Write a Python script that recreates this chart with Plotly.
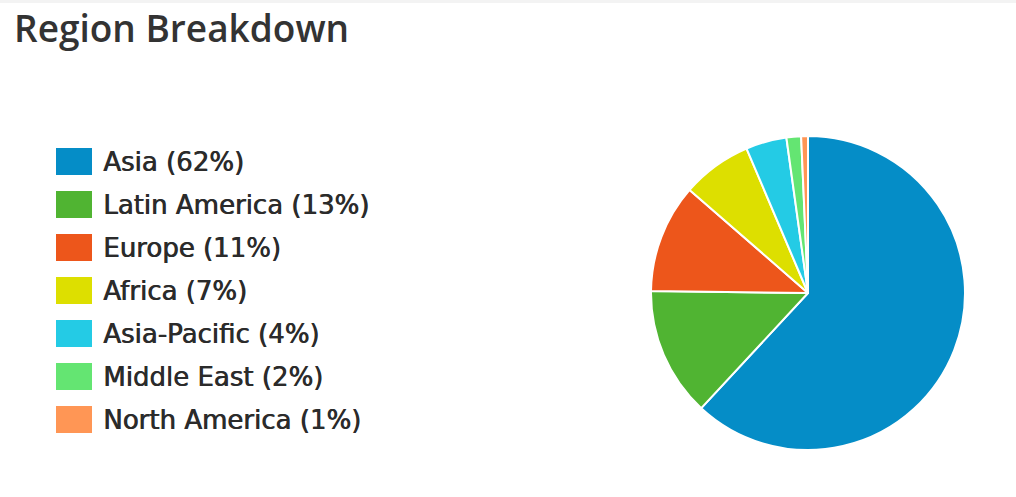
import plotly.graph_objects as go

regions = ["Asia", "Latin America", "Europe", "Africa", "Asia-Pacific", "Middle East", "North America"]
shares = [61.9, 13.3, 11.2, 7.2, 4.2, 1.5, 0.7]
legend_labels = ["Asia (62%)", "Latin America (13%)", "Europe (11%)", "Africa (7%)",
                 "Asia-Pacific (4%)", "Middle East (2%)", "North America (1%)"]
colors = ["#058DC7", "#50B432", "#ED561B", "#DDDF00", "#24CBE5", "#64E572", "#FF9655"]

W, H = 1016, 497

fig = go.Figure()
fig.add_trace(go.Pie(
    labels=regions, values=shares, sort=False, direction="clockwise", rotation=0,
    marker=dict(colors=colors, line=dict(color="white", width=2)),
    textinfo="none", hoverinfo="label+percent", showlegend=False,
    domain=dict(x=[651 / W, 965 / W], y=[(H - 450) / H, (H - 136) / H]),
))

# custom legend (large swatches)
shapes, annotations = [], []
shapes.append(dict(type="rect", xref="paper", yref="paper", x0=0, x1=1, y0=(H - 3) / H, y1=1,
                   fillcolor="#f3f3f3", line=dict(width=0)))
for i, (lab, col) in enumerate(zip(legend_labels, colors)):
    cy = 161.5 + i * 43.0
    shapes.append(dict(type="rect", xref="paper", yref="paper",
                       x0=56 / W, x1=92 / W, y0=(H - (cy + 13.5)) / H, y1=(H - (cy - 13.5)) / H,
                       fillcolor=col, line=dict(width=0)))
    annotations.append(dict(text=lab, xref="paper", yref="paper", x=101 / W, y=(H - cy - 0.5) / H,
                            xanchor="left", yanchor="middle", showarrow=False,
                            font=dict(family="DejaVu Sans", size=26, color="#2b2b2b",
                                      shadow="0.7px 0px 0px #2b2b2b")))

annotations.append(dict(text="Region Breakdown", xref="paper", yref="paper", x=12 / W, y=(H - 27) / H,
                        xanchor="left", yanchor="middle", showarrow=False,
                        font=dict(family="Open Sans", size=37, color="#333333", weight=600)))

fig.update_layout(
    width=W, height=H, margin=dict(l=0, r=0, t=0, b=0),
    paper_bgcolor="white", plot_bgcolor="white",
    shapes=shapes, annotations=annotations,
)
fig.write_html("out.html", config={"displayModeBar": False},
               post_script="document.body.style.margin='0';")
